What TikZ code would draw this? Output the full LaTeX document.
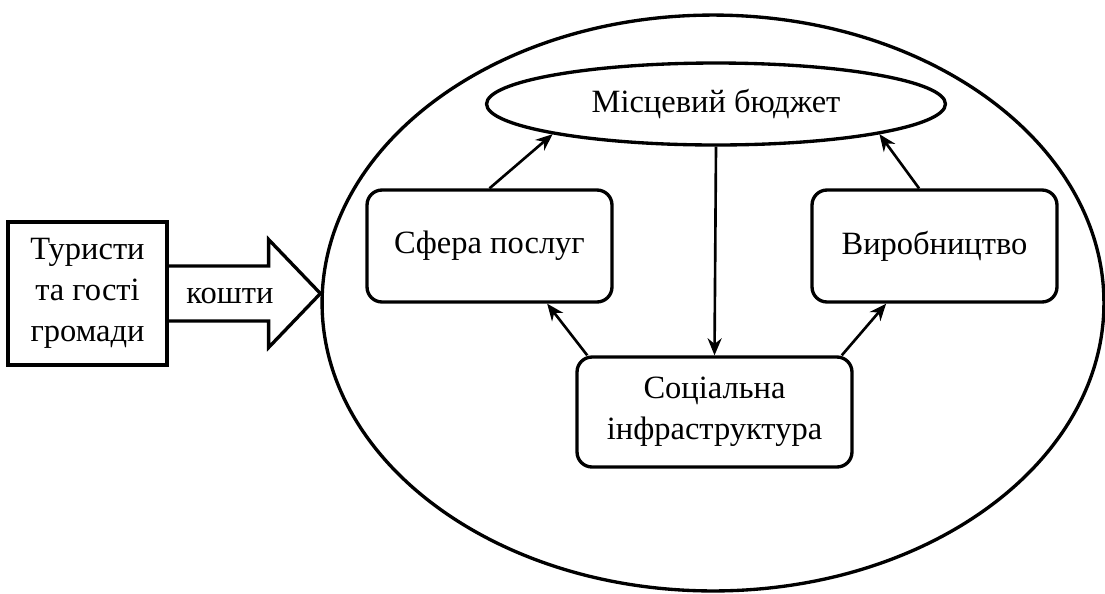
\documentclass[tikz,border=0pt]{standalone}
\usepackage{fontspec}
\setmainfont{Liberation Serif}
\usetikzlibrary{arrows.meta,shapes.geometric}
\tikzset{
  frame/.style={draw, line width=1.9pt},
  block/.style={frame, rounded corners=0.3cm, align=center, minimum width=4.9cm, minimum height=2.24cm},
  link/.style={line width=1.5pt, -{Stealth[length=0.34cm, width=0.28cm]}}
}
\begin{document}
\begin{tikzpicture}[x=0.02cm, y=-0.02cm, font=\fontsize{18.5}{23.5}\selectfont]
				\useasboundingbox (0,0) rectangle (1105,593);
				% Community
				\node[frame, ellipse, minimum width=15.64cm, minimum height=11.52cm] (area) at (713,303) {};
				\node[frame, ellipse, minimum width=9.18cm, minimum height=1.64cm] (budget) at (716,104) {Місцевий бюджет};
				\node[block] (serv) at (489.5,246) {Сфера послуг};
				\node[block] (prod) at (934.5,246) {Виробництво};
				\node[block, minimum width=5.5cm, minimum height=2.2cm] (soc) at (714.5,412) {Соціальна\\інфраструктура};
				
				% Tourists
				\node[frame, align=center, minimum width=3.18cm, minimum height=2.86cm] (tour) at (87.5,293.5) {Туристи\\та гості\\громади};
				
				% Big arrow
				\coordinate (tip) at (tour.east -| area.west);
				\coordinate (neck) at ([xshift=2cm]tour.east);
				\draw[frame, line join=miter] ([yshift=0.55cm]tour.east) -- ([yshift=0.55cm]neck) -- ([yshift=1.08cm]neck)
					-- (tip) -- ([yshift=-1.08cm]neck) -- ([yshift=-0.55cm]neck) -- ([yshift=-0.55cm]tour.east);
				\node (money) at (230,296) {кошти};
				
				% Flows
				\draw[link] (serv.north) -- (budget.south west);
				\draw[link] (prod.105) -- (budget.south east);
				\draw[link] (budget.south) -- (soc.north);
				\draw[link] (soc.156) -- (serv.-45);
				\draw[link] (soc.24) -- (prod.230);
\end{tikzpicture}
\end{document}
